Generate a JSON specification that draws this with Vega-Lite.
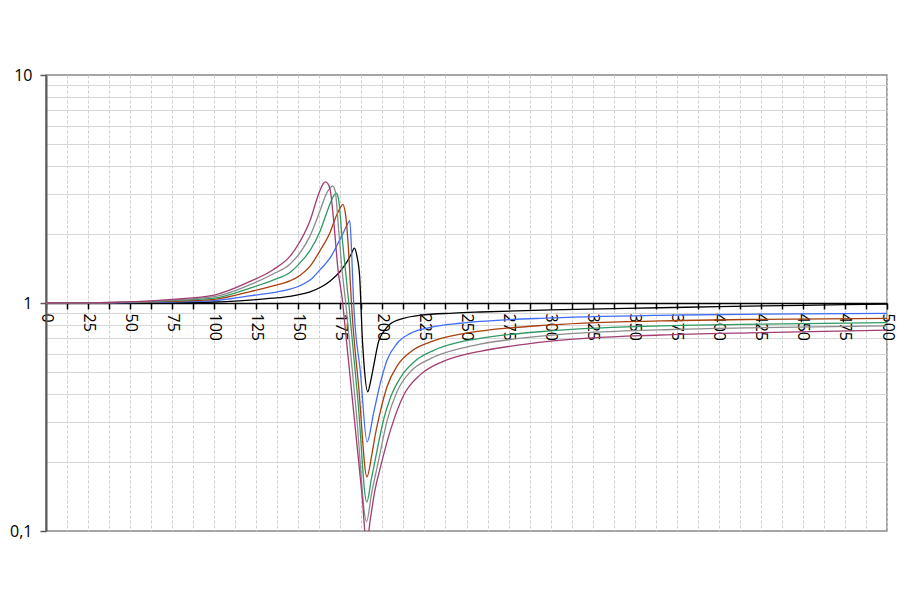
{
  "$schema": "https://vega.github.io/schema/vega-lite/v6.json",
  "width": 841,
  "height": 456,
  "autosize": {"type": "none"},
  "padding": {"left": 46, "top": 75, "right": 36, "bottom": 75},
  "background": "white",
  "config": {
    "view": {"stroke": "#888888", "strokeWidth": 1.5},
    "font": "Open Sans"
  },
  "data": {
    "values": [
      {"s":"a","x":0,"y":1},{"s":"a","x":25,"y":1},{"s":"a","x":50,"y":1.001},{"s":"a","x":75,"y":1.003},{"s":"a","x":100,"y":1.01},{"s":"a","x":121,"y":1.03},{"s":"a","x":135,"y":1.05},{"s":"a","x":145,"y":1.07},{"s":"a","x":151,"y":1.09},{"s":"a","x":157,"y":1.12},{"s":"a","x":163,"y":1.17},{"s":"a","x":169,"y":1.25},{"s":"a","x":175,"y":1.38},{"s":"a","x":179,"y":1.52},{"s":"a","x":181.5,"y":1.64},{"s":"a","x":183.3,"y":1.74},{"s":"a","x":184.9,"y":1.6},{"s":"a","x":186.5,"y":1.3},{"s":"a","x":187.2,"y":1.0},{"s":"a","x":187.9,"y":0.74},{"s":"a","x":188.9,"y":0.56},{"s":"a","x":191.3,"y":0.408},{"s":"a","x":192.9,"y":0.45},{"s":"a","x":194.8,"y":0.53},{"s":"a","x":197.8,"y":0.68},{"s":"a","x":200.8,"y":0.75},{"s":"a","x":204.8,"y":0.81},{"s":"a","x":212.7,"y":0.857},{"s":"a","x":222.6,"y":0.884},{"s":"a","x":242.4,"y":0.903},{"s":"a","x":258,"y":0.913},{"s":"a","x":300,"y":0.933},{"s":"a","x":365,"y":0.953},{"s":"a","x":400,"y":0.964},{"s":"a","x":450,"y":0.977},{"s":"a","x":500,"y":0.99},

      {"s":"b","x":0,"y":1},{"s":"b","x":25,"y":1},{"s":"b","x":50,"y":1.004},{"s":"b","x":75,"y":1.01},{"s":"b","x":100,"y":1.024},{"s":"b","x":121,"y":1.075},{"s":"b","x":135,"y":1.11},{"s":"b","x":145,"y":1.15},{"s":"b","x":151,"y":1.19},{"s":"b","x":157,"y":1.26},{"s":"b","x":163,"y":1.4},{"s":"b","x":169,"y":1.58},{"s":"b","x":174,"y":1.85},{"s":"b","x":177,"y":2.05},{"s":"b","x":179,"y":2.2},{"s":"b","x":180.6,"y":2.3},{"s":"b","x":181.8,"y":1.6},{"s":"b","x":182.9,"y":1.0},{"s":"b","x":186.9,"y":0.5},{"s":"b","x":190.9,"y":0.246},{"s":"b","x":194.8,"y":0.33},{"s":"b","x":198.8,"y":0.446},{"s":"b","x":202.8,"y":0.562},{"s":"b","x":208.8,"y":0.666},{"s":"b","x":216.7,"y":0.736},{"s":"b","x":228.6,"y":0.782},{"s":"b","x":246.4,"y":0.815},{"s":"b","x":258,"y":0.83},{"s":"b","x":300,"y":0.86},{"s":"b","x":377,"y":0.886},{"s":"b","x":425,"y":0.893},{"s":"b","x":500,"y":0.9},

      {"s":"c","x":0,"y":1},{"s":"c","x":25,"y":1.001},{"s":"c","x":50,"y":1.006},{"s":"c","x":75,"y":1.017},{"s":"c","x":100,"y":1.038},{"s":"c","x":121,"y":1.12},{"s":"c","x":135,"y":1.19},{"s":"c","x":145,"y":1.25},{"s":"c","x":151,"y":1.32},{"s":"c","x":157,"y":1.45},{"s":"c","x":163,"y":1.7},{"s":"c","x":169,"y":2.05},{"s":"c","x":172.5,"y":2.4},{"s":"c","x":175,"y":2.62},{"s":"c","x":176.4,"y":2.71},{"s":"c","x":178,"y":2.47},{"s":"c","x":179.6,"y":1.83},{"s":"c","x":181,"y":1.2},{"s":"c","x":181.6,"y":1.0},{"s":"c","x":186,"y":0.42},{"s":"c","x":190.8,"y":0.173},{"s":"c","x":193.9,"y":0.22},{"s":"c","x":195.8,"y":0.265},{"s":"c","x":198.8,"y":0.335},{"s":"c","x":202.8,"y":0.43},{"s":"c","x":208.8,"y":0.53},{"s":"c","x":216.7,"y":0.61},{"s":"c","x":228.6,"y":0.675},{"s":"c","x":246.4,"y":0.73},{"s":"c","x":258,"y":0.753},{"s":"c","x":300,"y":0.801},{"s":"c","x":377,"y":0.838},{"s":"c","x":425,"y":0.848},{"s":"c","x":500,"y":0.857},

      {"s":"d","x":0,"y":1},{"s":"d","x":25,"y":1.001},{"s":"d","x":50,"y":1.008},{"s":"d","x":75,"y":1.024},{"s":"d","x":100,"y":1.05},{"s":"d","x":121,"y":1.16},{"s":"d","x":135,"y":1.26},{"s":"d","x":145,"y":1.36},{"s":"d","x":151,"y":1.5},{"s":"d","x":157,"y":1.7},{"s":"d","x":163,"y":2.07},{"s":"d","x":167,"y":2.5},{"s":"d","x":169,"y":2.74},{"s":"d","x":171,"y":2.95},{"s":"d","x":172.6,"y":3.03},{"s":"d","x":174,"y":2.83},{"s":"d","x":176,"y":1.95},{"s":"d","x":178,"y":1.4},{"s":"d","x":180,"y":1.0},{"s":"d","x":185.5,"y":0.37},{"s":"d","x":190.7,"y":0.134},{"s":"d","x":193.5,"y":0.17},{"s":"d","x":196.8,"y":0.225},{"s":"d","x":200.8,"y":0.31},{"s":"d","x":204.8,"y":0.385},{"s":"d","x":210.7,"y":0.47},{"s":"d","x":218.6,"y":0.55},{"s":"d","x":230.5,"y":0.62},{"s":"d","x":248.4,"y":0.68},{"s":"d","x":258,"y":0.7},{"s":"d","x":300,"y":0.755},{"s":"d","x":377,"y":0.797},{"s":"d","x":425,"y":0.808},{"s":"d","x":500,"y":0.82},

      {"s":"e","x":0,"y":1},{"s":"e","x":25,"y":1.002},{"s":"e","x":50,"y":1.01},{"s":"e","x":75,"y":1.03},{"s":"e","x":100,"y":1.066},{"s":"e","x":121,"y":1.2},{"s":"e","x":135,"y":1.34},{"s":"e","x":145,"y":1.48},{"s":"e","x":151,"y":1.66},{"s":"e","x":157,"y":1.97},{"s":"e","x":163,"y":2.55},{"s":"e","x":167,"y":3.05},{"s":"e","x":169,"y":3.2},{"s":"e","x":170.4,"y":3.26},{"s":"e","x":172,"y":3.08},{"s":"e","x":174,"y":2.09},{"s":"e","x":176,"y":1.4},{"s":"e","x":178.2,"y":1.0},{"s":"e","x":184.5,"y":0.33},{"s":"e","x":190.6,"y":0.11},{"s":"e","x":193.5,"y":0.145},{"s":"e","x":197.8,"y":0.205},{"s":"e","x":202.8,"y":0.305},{"s":"e","x":208.8,"y":0.41},{"s":"e","x":216.7,"y":0.5},{"s":"e","x":228.6,"y":0.57},{"s":"e","x":248.4,"y":0.637},{"s":"e","x":258,"y":0.66},{"s":"e","x":300,"y":0.722},{"s":"e","x":377,"y":0.767},{"s":"e","x":425,"y":0.78},{"s":"e","x":500,"y":0.793},

      {"s":"f","x":0,"y":1},{"s":"f","x":25,"y":1.002},{"s":"f","x":50,"y":1.012},{"s":"f","x":75,"y":1.038},{"s":"f","x":100,"y":1.084},{"s":"f","x":121,"y":1.24},{"s":"f","x":135,"y":1.4},{"s":"f","x":145,"y":1.6},{"s":"f","x":151,"y":1.86},{"s":"f","x":157,"y":2.3},{"s":"f","x":161,"y":2.85},{"s":"f","x":163.1,"y":3.15},{"s":"f","x":165,"y":3.35},{"s":"f","x":166.1,"y":3.4},{"s":"f","x":167.5,"y":3.35},{"s":"f","x":169,"y":3.13},{"s":"f","x":171,"y":2.31},{"s":"f","x":173.6,"y":1.4},{"s":"f","x":176.4,"y":1.0},{"s":"f","x":177,"y":0.9},{"s":"f","x":181,"y":0.46},{"s":"f","x":185,"y":0.234},{"s":"f","x":188,"y":0.141},{"s":"f","x":190.5,"y":0.088},{"s":"f","x":193,"y":0.115},{"s":"f","x":195.5,"y":0.15},{"s":"f","x":198.8,"y":0.19},{"s":"f","x":204.8,"y":0.277},{"s":"f","x":212.7,"y":0.395},{"s":"f","x":222.6,"y":0.485},{"s":"f","x":234.5,"y":0.548},{"s":"f","x":250,"y":0.597},{"s":"f","x":258,"y":0.614},{"s":"f","x":300,"y":0.68},{"s":"f","x":365,"y":0.724},{"s":"f","x":425,"y":0.742},{"s":"f","x":500,"y":0.76}
    ]
  },
  "resolve": {"axis": {"x": "independent", "y": "independent"}},
  "layer": [
    {
      "mark": {"type": "line", "opacity": 0},
      "encoding": {
        "x": {"field": "x", "type": "quantitative", "scale": {"domain": [0, 500], "nice": false, "zero": false},
          "axis": {"orient": "bottom", "title": null, "values": [0,12.5,25,37.5,50,62.5,75,87.5,100,112.5,125,137.5,150,162.5,175,187.5,200,212.5,225,237.5,250,262.5,275,287.5,300,312.5,325,337.5,350,362.5,375,387.5,400,412.5,425,437.5,450,462.5,475,487.5,500],
            "grid": true, "gridColor": "#cfcfcf", "gridDash": [3, 2], "gridWidth": 1, "labels": false, "ticks": false, "domain": false}},
        "y": {"field": "y", "type": "quantitative", "scale": {"type": "log", "domain": [0.1, 10], "nice": false},
          "axis": {"orient": "left", "title": null, "values": [0.2,0.3,0.4,0.5,0.6,0.7,0.8,0.9,2,3,4,5,6,7,8,9],
            "grid": true, "gridColor": "#d6d6d6", "gridWidth": 1, "labels": false, "ticks": false, "domain": false}},
        "detail": {"field": "s"}
      }
    },
    {
      "mark": {"type": "line", "strokeWidth": 1.3, "clip": true, "interpolate": "monotone"},
      "encoding": {
        "x": {"field": "x", "type": "quantitative", "scale": {"domain": [0, 500], "nice": false, "zero": false},
          "axis": {"orient": "bottom", "offset": -228, "title": null, "grid": false,
            "values": [0,12.5,25,37.5,50,62.5,75,87.5,100,112.5,125,137.5,150,162.5,175,187.5,200,212.5,225,237.5,250,262.5,275,287.5,300,312.5,325,337.5,350,362.5,375,387.5,400,412.5,425,437.5,450,462.5,475,487.5,500],
            "labelExpr": "datum.value % 25 == 0 ? format(datum.value, 'd') : ''",
            "labelAngle": 90, "labelAlign": "left", "labelBaseline": "middle", "labelPadding": 4,
            "labelFontSize": 16, "labelFont": "Open Sans", "labelColor": "#000000", "labelOverlap": false, "labelBound": false, "labelFlush": false,
            "domainColor": "#000000", "domainWidth": 1.5, "tickColor": "#000000", "tickWidth": 1.5, "tickSize": 6}},
        "y": {"field": "y", "type": "quantitative", "scale": {"type": "log", "domain": [0.1, 10], "nice": false},
          "axis": {"orient": "left", "title": null, "grid": false, "values": [0.1, 1, 10],
            "labelExpr": "datum.value == 0.1 ? '0,1' : format(datum.value, 'd')",
            "labelFontSize": 16, "labelFont": "Open Sans", "labelColor": "#000000", "labelPadding": 8,
            "domainColor": "#595959", "domainWidth": 2, "tickColor": "#595959", "tickWidth": 1.5, "tickSize": 6}},
        "color": {"field": "s", "type": "nominal", "legend": null,
          "scale": {"domain": ["a","b","c","d","e","f"], "range": ["#000000", "#3f6ef5", "#a8400c", "#2f9a63", "#8c8c8c", "#a23c72"]}}
      }
    }
  ]
}
